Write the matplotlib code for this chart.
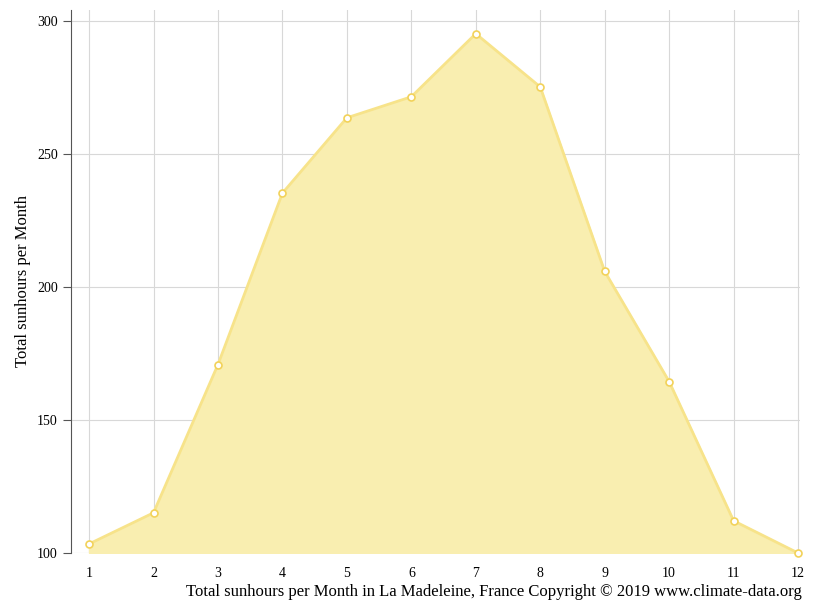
import matplotlib
matplotlib.use('Agg')
import matplotlib.pyplot as plt

plt.rcParams['font.family'] = ['Liberation Serif', 'DejaVu Serif']

months = list(range(1, 13))
sunhours = [103.4, 115.1, 170.8, 235.2, 263.5, 271.4, 295.1, 275.1, 205.8, 164.4, 112.1, 100.0]

fig = plt.figure(figsize=(8.15, 6.11), dpi=100)
ax = fig.add_axes([71/815, 1-553/611, (800-71)/815, (553-10)/611])

ax.fill_between(months, sunhours, 100, color='#f9eeb0', zorder=2)
ax.plot(months, sunhours, color='#f7e38a', lw=2, zorder=3)
ax.plot(months, sunhours, 'o', ms=5, mfc='white', mec='#f2d25a', mew=1.2, zorder=4, clip_on=False)

ax.set_xlim(0.72, 12.03)
ax.set_ylim(100, 304)
ax.set_xticks(months)
ax.set_yticks([100, 150, 200, 250, 300])
ax.grid(True, color='#d8d8d8', lw=0.8, zorder=0)
ax.tick_params(axis='x', length=0, pad=10, labelsize=10)
ax.tick_params(axis='y', length=6, color='#555555', labelsize=10)
for s in ['top', 'right', 'bottom']:
    ax.spines[s].set_visible(False)
ax.spines['left'].set_color('#555555')

ax.set_ylabel('Total sunhours per Month', fontsize=12)
fig.text(802/815, 1-592/611, 'Total sunhours per Month in La Madeleine, France Copyright © 2019 www.climate-data.org',
         ha='right', va='center', fontsize=12)

fig.savefig('out.png', dpi=100)
